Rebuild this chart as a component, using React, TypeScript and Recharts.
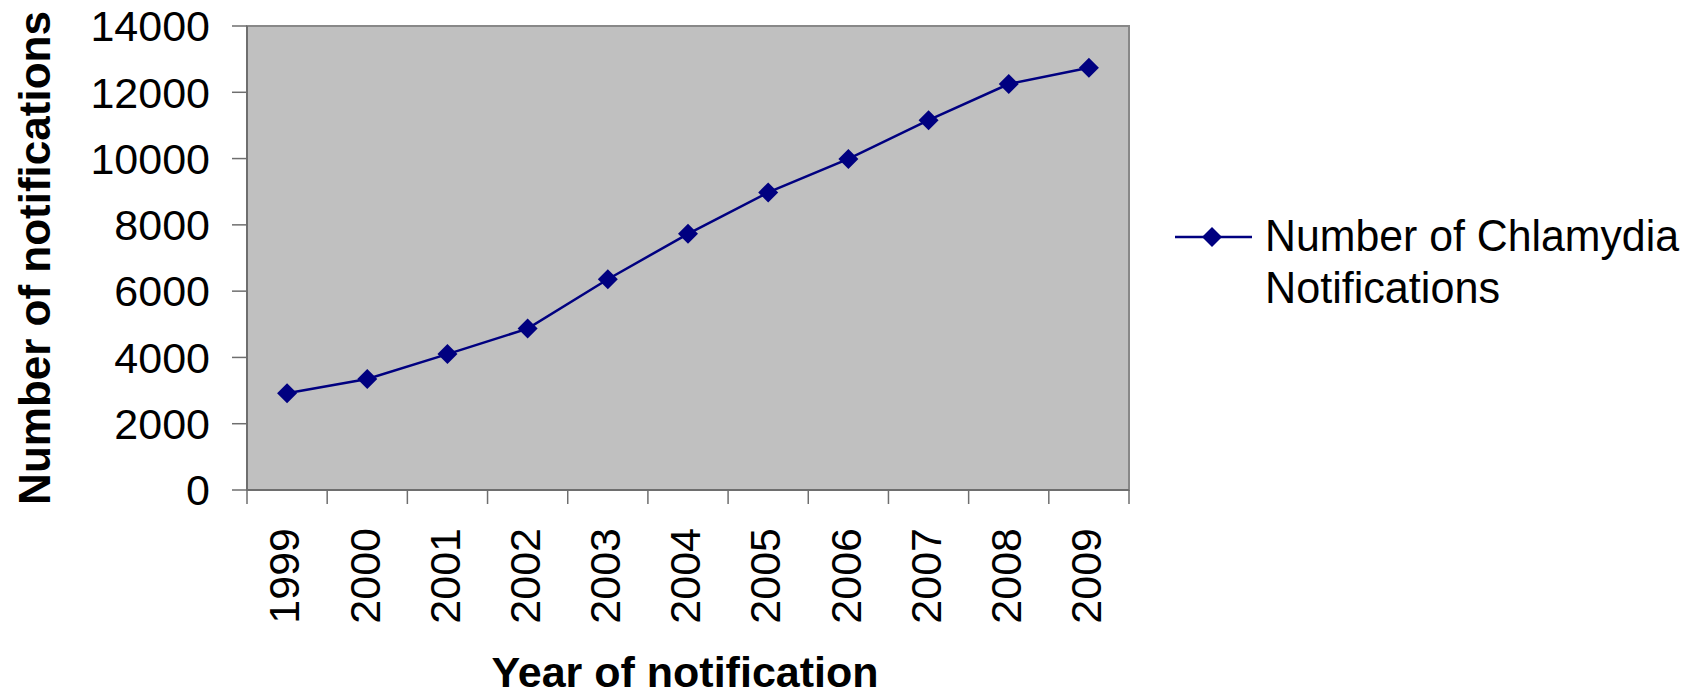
import {
  LineChart,
  Line,
  XAxis,
  YAxis,
  CartesianGrid,
  ReferenceArea,
  Legend,
  Label,
} from 'recharts'

const YEARS = [1999, 2000, 2001, 2002, 2003, 2004, 2005, 2006, 2007, 2008, 2009]
const NOTIFICATIONS = [2920, 3350, 4100, 4870, 6360, 7730, 8980, 9990, 11160, 12250, 12740]
const Y_TICKS = [0, 2000, 4000, 6000, 8000, 10000, 12000, 14000]
const SERIES_NAME = 'Number of Chlamydia Notifications'

// Excel-style: boundary tick marks between categories, labels at category centres
const X_TICKS = [...YEARS.map((y) => y - 0.5), YEARS[YEARS.length - 1] + 0.5, ...YEARS]

const FONT = '"Liberation Sans", Arial, sans-serif'
const NAVY = '#000080'
const AXIS = '#6e6e6e'

const data = YEARS.map((year, i) => ({ year, value: NOTIFICATIONS[i] }))

function Diamond(props: any) {
  const { cx, cy, index } = props
  if (cx == null || cy == null) return null
  const r = 10
  return (
    <polygon
      key={`d-${index}`}
      points={`${cx},${cy - r} ${cx + r},${cy} ${cx},${cy + r} ${cx - r},${cy}`}
      fill={NAVY}
    />
  )
}

function XTick(props: any) {
  const { x, y, payload } = props
  const v = payload?.value as number
  if (!Number.isInteger(v)) {
    return <line x1={x} y1={y} x2={x} y2={y + 14} stroke={AXIS} strokeWidth={1.5} />
  }
  return (
    <text
      transform={`translate(${x - 3}, ${y + 38}) rotate(-90)`}
      textAnchor="end"
      dy="0.355em"
      fontFamily={FONT}
      fontSize={43}
      fill="#000"
    >
      {v}
    </text>
  )
}

function LegendBox() {
  return (
    <svg width={530} height={120} style={{ display: 'block', overflow: 'visible' }}>
      <line x1={10} y1={37} x2={87} y2={37} stroke={NAVY} strokeWidth={2.5} />
      <polygon points="47,27 57,37 47,47 37,37" fill={NAVY} />
      <text x={100} y={51} fontFamily={FONT} fontSize={45} textLength={414} lengthAdjust="spacingAndGlyphs">
        Number of Chlamydia
      </text>
      <text x={100} y={103} fontFamily={FONT} fontSize={45} textLength={235} lengthAdjust="spacingAndGlyphs">
        Notifications
      </text>
    </svg>
  )
}

export default function App() {
  return (
    <div style={{ position: 'absolute', left: 0, top: 0, background: '#fff' }}>
      <LineChart
        width={1698}
        height={697}
        data={data}
        margin={{ top: 26, right: 39, bottom: 0, left: 0 }}
      >
        <CartesianGrid fill="#c0c0c0" horizontal={false} vertical={false} />
        <ReferenceArea
          x1={1998.5}
          x2={2009.5}
          y1={0}
          y2={14000}
          fill="none"
          stroke="#888"
          strokeWidth={2}
          ifOverflow="visible"
        />
        <XAxis
          dataKey="year"
          type="number"
          domain={[1998.5, 2009.5]}
          ticks={X_TICKS}
          interval={0}
          height={207}
          tickLine={false}
          tickSize={0}
          tickMargin={0}
          axisLine={{ stroke: AXIS, strokeWidth: 2 }}
          tick={<XTick />}
        >
          <Label
            content={(p: any) => {
              const vb = p.viewBox || {}
              return (
                <text
                  x={vb.x + vb.width / 2 - 3}
                  y={vb.y + 197}
                  textAnchor="middle"
                  fontFamily={FONT}
                  fontWeight="bold"
                  fontSize={43}
                  fill="#000"
                >
                  Year of notification
                </text>
              )
            }}
          />
        </XAxis>
        <YAxis
          type="number"
          domain={[0, 14000]}
          ticks={Y_TICKS}
          interval={0}
          width={247}
          tickSize={15}
          tickMargin={22}
          tickLine={{ stroke: AXIS, strokeWidth: 1.5 }}
          axisLine={{ stroke: AXIS, strokeWidth: 2 }}
          tick={{ fontFamily: FONT, fontSize: 43, fill: '#000' }}
        >
          <Label
            content={(p: any) => {
              const vb = p.viewBox || {}
              const cy = vb.y + vb.height / 2
              return (
                <text
                  transform={`translate(50, ${cy}) rotate(-90)`}
                  textAnchor="middle"
                  fontFamily={FONT}
                  fontWeight="bold"
                  fontSize={44}
                  fill="#000"
                >
                  Number of notifications
                </text>
              )
            }}
          />
        </YAxis>
        <Legend
          layout="vertical"
          align="right"
          verticalAlign="top"
          content={() => <LegendBox />}
          wrapperStyle={{ left: 1165, top: 200, right: 'auto' }}
        />
        <Line
          type="linear"
          dataKey="value"
          name={SERIES_NAME}
          stroke={NAVY}
          strokeWidth={2.5}
          dot={<Diamond />}
          activeDot={false}
          isAnimationActive={false}
        />
      </LineChart>
    </div>
  )
}
